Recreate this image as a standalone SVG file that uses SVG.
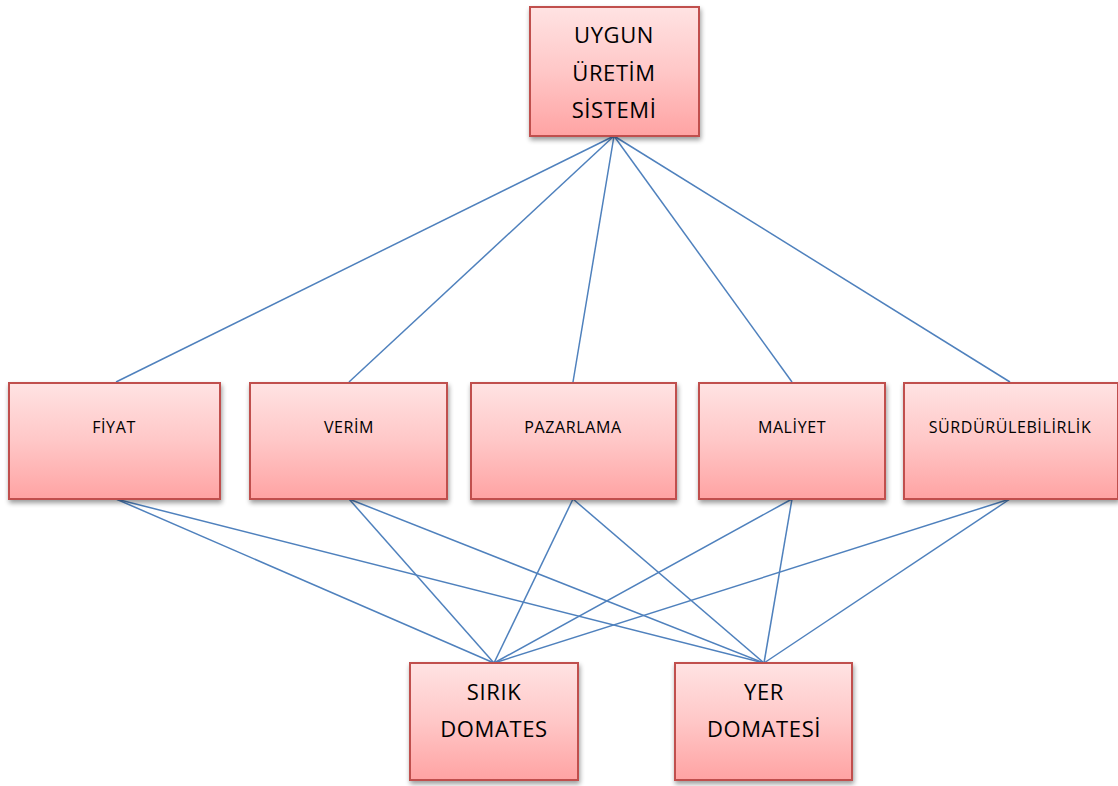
<svg xmlns="http://www.w3.org/2000/svg" width="1118" height="786" viewBox="0 0 1118 786">
<defs>
<linearGradient id="g" x1="0" y1="0" x2="0" y2="1">
<stop offset="0" stop-color="#FFE3E3"/>
<stop offset="0.5" stop-color="#FFC7C7"/>
<stop offset="1" stop-color="#FFA3A3"/>
</linearGradient>
<filter id="sh" x="-10%" y="-10%" width="125%" height="130%">
<feGaussianBlur in="SourceAlpha" stdDeviation="2.5"/>
<feOffset dx="1" dy="3" result="b"/>
<feComponentTransfer><feFuncA type="linear" slope="0.4"/></feComponentTransfer>
<feMerge><feMergeNode/><feMergeNode in="SourceGraphic"/></feMerge>
</filter>
</defs>
<style>
.box{fill:url(#g);stroke:#C0504D;stroke-width:2;filter:url(#sh)}
.t{font-family:"Open Sans","Liberation Sans",sans-serif;fill:#000;text-anchor:middle}
.big{font-size:22px;letter-spacing:0.6px}
.sm{font-size:16px;letter-spacing:0.6px}
.c line{stroke:#4F81BD;stroke-width:1.5}
</style>
<rect width="1118" height="786" fill="#fff"/>
<g class="c" id="connectors">
<line x1="614" y1="136" x2="116" y2="382"/>
<line x1="614" y1="136" x2="349" y2="382"/>
<line x1="614" y1="136" x2="573" y2="382"/>
<line x1="614" y1="136" x2="792" y2="382"/>
<line x1="614" y1="136" x2="1010" y2="382"/>
<line x1="116" y1="499" x2="494" y2="663"/>
<line x1="116" y1="499" x2="764" y2="663"/>
<line x1="349" y1="499" x2="494" y2="663"/>
<line x1="349" y1="499" x2="764" y2="663"/>
<line x1="573" y1="499" x2="494" y2="663"/>
<line x1="573" y1="499" x2="764" y2="663"/>
<line x1="792" y1="499" x2="494" y2="663"/>
<line x1="792" y1="499" x2="764" y2="663"/>
<line x1="1010" y1="499" x2="494" y2="663"/>
<line x1="1010" y1="499" x2="764" y2="663"/>
</g>
<g id="uygun">
<rect class="box" x="530" y="7" width="169" height="129"/>
<text class="t big" x="614" y="43">UYGUN</text>
<text class="t big" x="614" y="81">ÜRETİM</text>
<text class="t big" x="614" y="118">SİSTEMİ</text>
</g>
<g id="fiyat">
<rect class="box" x="9" y="383" width="211" height="116"/>
<text class="t sm" x="114" y="433">FİYAT</text>
</g>
<g id="verim">
<rect class="box" x="250" y="383" width="197" height="116"/>
<text class="t sm" x="349" y="433">VERİM</text>
</g>
<g id="pazarlama">
<rect class="box" x="471" y="383" width="205" height="116"/>
<text class="t sm" x="573" y="433">PAZARLAMA</text>
</g>
<g id="maliyet">
<rect class="box" x="699" y="383" width="186" height="116"/>
<text class="t sm" x="792" y="433">MALİYET</text>
</g>
<g id="surdurulebilirlik">
<rect class="box" x="904" y="383" width="214" height="116"/>
<text class="t sm" x="1010" y="433">SÜRDÜRÜLEBİLİRLİK</text>
</g>
<g id="sirik">
<rect class="box" x="410" y="663" width="168" height="117"/>
<text class="t big" x="494" y="700">SIRIK</text>
<text class="t big" x="494" y="737">DOMATES</text>
</g>
<g id="yer">
<rect class="box" x="675" y="663" width="177" height="117"/>
<text class="t big" x="764" y="700">YER</text>
<text class="t big" x="764" y="737">DOMATESİ</text>
</g>
</svg>
